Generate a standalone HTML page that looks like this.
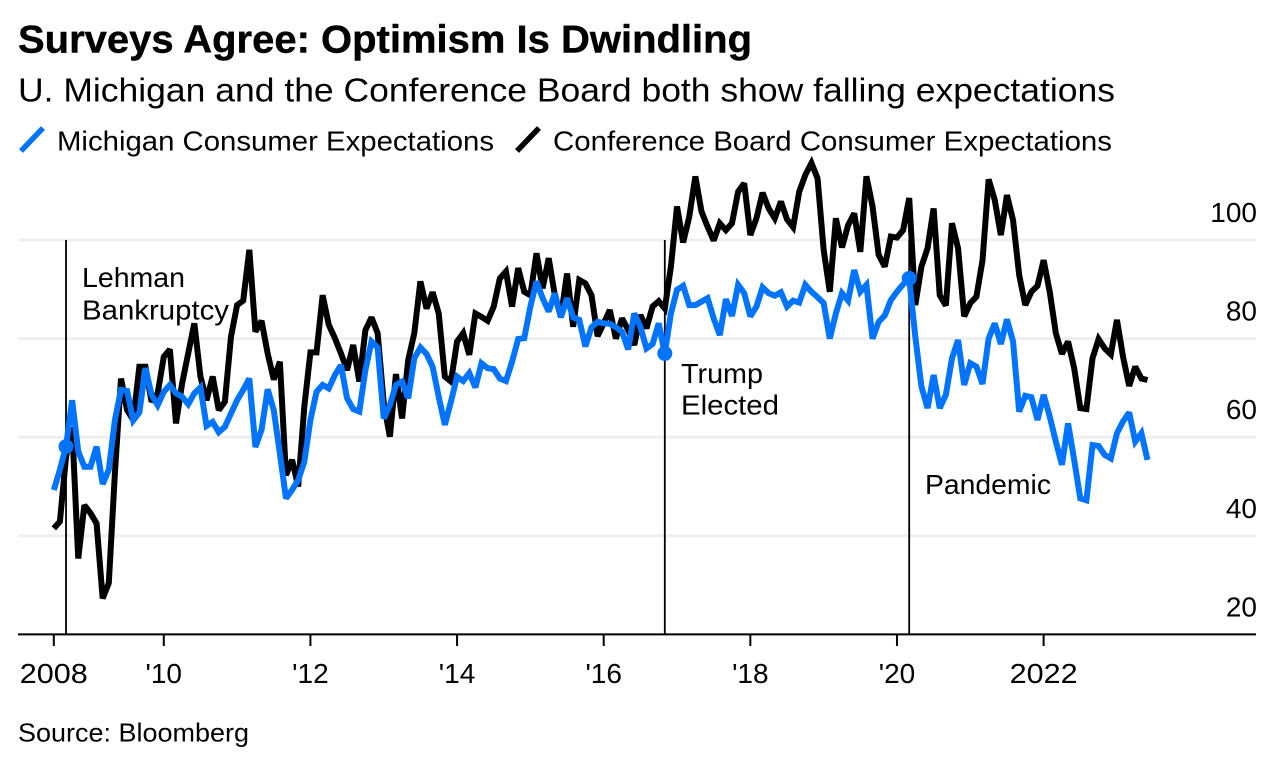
<!DOCTYPE html>
<html lang="en">
<head>
<meta charset="utf-8">
<title>Surveys Agree: Optimism Is Dwindling</title>
<style>
html,body{margin:0;padding:0;background:#fff;width:1278px;height:768px;overflow:hidden}
svg{display:block;font-family:"Liberation Sans",sans-serif;fill:#000}
</style>
</head>
<body>
<svg id="chart" xmlns="http://www.w3.org/2000/svg" width="1278" height="768" viewBox="0 0 1278 768">
  <text x="18" y="52.5" font-size="39" font-weight="700" stroke="#000" stroke-width="0.4" textLength="734" lengthAdjust="spacingAndGlyphs">Surveys Agree: Optimism Is Dwindling</text>
  <text x="18" y="101.5" font-size="33" textLength="1097" lengthAdjust="spacingAndGlyphs">U. Michigan and the Conference Board both show falling expectations</text>
  <g>
    <line x1="21" y1="151" x2="43" y2="128" stroke="#0073ff" stroke-width="5.5"/>
    <text x="57" y="150.5" font-size="28" textLength="437" lengthAdjust="spacingAndGlyphs">Michigan Consumer Expectations</text>
    <line x1="517" y1="151" x2="539" y2="128" stroke="#000" stroke-width="5.5"/>
    <text x="553" y="150.5" font-size="28" textLength="559" lengthAdjust="spacingAndGlyphs">Conference Board Consumer Expectations</text>
  </g>
  <g id="grid"></g>
  <g id="events"></g>
  <g id="series"></g>
  <g id="axes"></g>
  <g font-size="28">
    <text x="82" y="287" textLength="103" lengthAdjust="spacingAndGlyphs">Lehman</text>
    <text x="82" y="319.5" textLength="147" lengthAdjust="spacingAndGlyphs">Bankruptcy</text>
    <text x="681" y="383" textLength="82" lengthAdjust="spacingAndGlyphs">Trump</text>
    <text x="681" y="414.5" textLength="98" lengthAdjust="spacingAndGlyphs">Elected</text>
    <text x="925" y="494" textLength="126" lengthAdjust="spacingAndGlyphs">Pandemic</text>
  </g>
  <text x="18" y="741.5" font-size="26" textLength="231" lengthAdjust="spacingAndGlyphs">Source: Bloomberg</text>
</svg>
<script>
const michigan = [
49.3,53.4,58.1,67.5,57.1,54,54,58.1,50.5,53.4,63.5,69.6,69.4,63.4,65,74,68.6,66.5,69.2,70.6,68.9,68.2,66.7,68.9,70.1,62.3,63.1,61,62.1,64.8,67.5,69.6,71.9,58,61.5,69.7,65.5,56.7,47.6,49.3,51.3,55,63.5,69.2,
70.6,69.9,72.6,74.6,67.9,65.7,65.2,73.6,79.4,78.2,63.8,66.5,70.6,71.3,67.9,76,78.2,76.9,74.3,68.2,62.5,67.2,72.3,71.4,73,70.1,75,74,73.8,71.9,71.4,75.3,79.9,80.1,86.5,91.6,88.2,85.5,89.2,84.3,88.2,84.3,83.8,78.4,82.3,83.4,
83.1,83,82.3,81.4,77.8,85.1,82.4,78,78.9,83.1,77,85.1,89.9,90.7,86.8,86.8,87.5,88.2,84.1,80.7,88,84.6,90.9,89.2,84.5,86.5,90.4,89.2,88.7,89.4,86.5,87.7,87.3,90.9,89.5,88.4,87.2,80,85.1,89.2,87.7,93.9,89.5,90.9,80,83.4,84.7,87.8,89.5,91,92.2,
80.4,70.3,65.9,72.6,65.9,68.6,76,79.7,70.6,75,74.3,70.8,80,83.1,78.9,83.9,79.4,65.2,68.4,68.1,63.5,68.6,64.2,59.1,54.4,62.8,55.4,47.6,47.2,58.4,58.2,56.4,55.7,60.8,63.2,65,59.1,60.8,55.4
];
const conferenceBoard = [
41.5,42.9,56,62,35.4,46.2,44.6,42.5,27.3,30.4,52.7,71.9,65.5,63.5,74.3,74.3,67.2,68.9,76.3,77.8,62.8,70.9,77,83.1,72.3,67.5,72.3,65.5,67.2,80.4,86.8,87.7,98,81.4,83.6,77,71.7,75.3,52.3,55.4,50,66.2,77.2,77.2,
88.8,82.8,80.1,77,73.6,78.7,71.3,81.7,84.3,81.1,66.9,60.1,72.8,63.8,75.6,81.1,91.6,86.1,89.4,85.1,72.3,71.3,79.4,81.1,76.7,85.1,84.4,83.6,86.5,92.2,93.6,86.5,94.3,89.5,88.8,97.3,90.2,96.3,88.8,84.4,93.2,82.4,91.9,91.2,88.8,80.5,
83.1,85.8,80,84.1,81.8,78.7,84.8,82.1,86.5,87.6,86.1,94.6,106.8,99.5,104.7,112.9,105.8,102.7,99.9,103.4,102,103.4,109.8,111.5,101,104.4,109.6,106.4,104.4,107.8,104.2,102.6,109.8,113.2,115.6,112.5,98,89.5,104.4,98.5,103,105.4,97.6,112.9,106.8,97,94.6,100.7,100.5,102,108.5,
86.8,94.6,98.3,106.4,88.8,86.7,103.4,98.3,84.5,87.2,88.5,95.9,112.3,108.1,101,109.1,104,92.9,86.8,89.5,90.7,95.9,89.5,81.1,76.9,79.4,74,65.9,65.7,76,79.9,78,76.8,83.8,76.3,70.4,74.3,71.9,71.6
];
const xTickLabels = ["2008","'10","'12","'14","'16","'18","'20","2022"];
const xTickMonths = [0,18,42,66,90,114,138,162];
const yTickValues = [20,40,60,80,100];
const eventMonths = [2,100,140];
const eventNames = ["lehman","trump","pandemic"];

const NS = "http://www.w3.org/2000/svg";
const x = m => 53.8 + 6.11 * m;
const y = v => 240 + (100 - v) * 4.93;
function make(tag, parent, attrs) {
  const el = document.createElementNS(NS, tag);
  for (const k in attrs) el.setAttribute(k, attrs[k]);
  parent.appendChild(el);
  return el;
}
const grid = document.getElementById("grid");
const axes = document.getElementById("axes");
const events = document.getElementById("events");
const series = document.getElementById("series");

yTickValues.forEach(function (v) {
  if (v > yTickValues[0]) {
    const g = make("line", grid, {x1: 18, x2: 1256, y1: y(v), y2: y(v), stroke: "#efefef", "stroke-width": 3});
    
    
  }
  const t = make("text", axes, {x: 1257, y: y(v) - 18, "font-size": 28, "text-anchor": "end"});
  
  
  t.textContent = v;
});

eventMonths.forEach(function (m, i) {
  const l = make("line", events, {x1: x(m), x2: x(m), y1: y(100), y2: y(yTickValues[0]), stroke: "#000", "stroke-width": 1.8});
  
  
});

function drawLine(values, color, name) {
  const d = values.map(function (v, i) { return (i ? "L" : "M") + x(i).toFixed(2) + " " + y(v).toFixed(2); }).join("");
  const p = make("path", series, {d: d, fill: "none", stroke: color, "stroke-width": 6, "stroke-linejoin": "miter", "stroke-miterlimit": 2.5});
  
  
}
drawLine(conferenceBoard, "#000", "line-conference-board");
drawLine(michigan, "#0073ff", "line-michigan");

eventMonths.forEach(function (m, i) {
  const c = make("circle", series, {cx: x(m), cy: y(michigan[m]), r: 7.5, fill: "#0073ff"});
  
  
});

const axisLine = make("line", axes, {x1: 18, x2: 1256, y1: y(yTickValues[0]), y2: y(yTickValues[0]), stroke: "#000", "stroke-width": 2});



xTickMonths.forEach(function (m, i) {
  const tk = make("line", axes, {x1: x(m), x2: x(m), y1: 634, y2: 646, stroke: "#000", "stroke-width": 2});
  
  
  const label = xTickLabels[i];
  const t = make("text", axes, {x: x(m), y: 683, "font-size": 28, "text-anchor": "middle"});
  if (label.length === 4) {
    t.setAttribute('textLength', 68);
    t.setAttribute('lengthAdjust', 'spacingAndGlyphs');
  }
  
  
  t.textContent = label;
});
</script>
</body>
</html>
